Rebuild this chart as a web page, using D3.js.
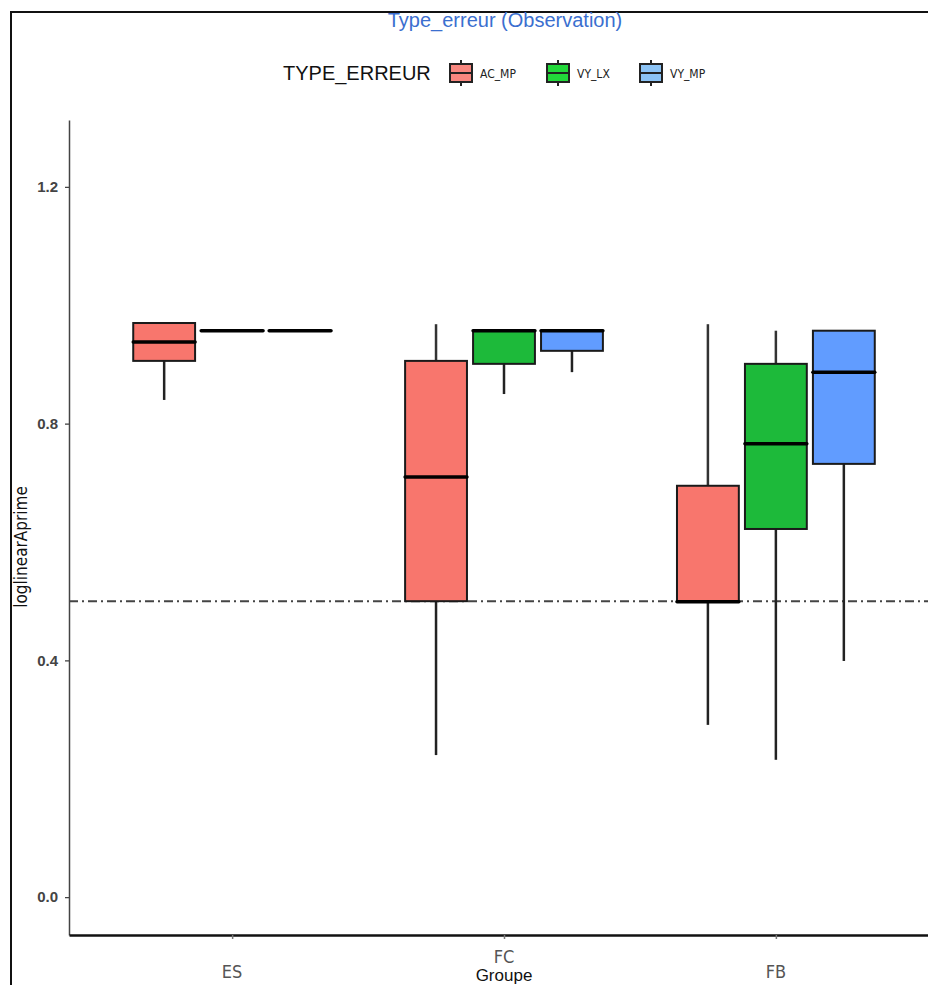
<!DOCTYPE html>
<html>
<head>
<meta charset="utf-8">
<script src="https://cdn.jsdelivr.net/npm/d3@7"></script>
<style>
  body { margin: 0; background: #fff; }
  svg { display: block; }
</style>
</head>
<body>
<div id="chart"></div>
<script>
// data
const groups = ["ES", "FC", "FB"];
const types = ["AC_MP", "VY_LX", "VY_MP"];
const typeColors = ["#f8766d", "#1dba3a", "#619cff"];
const legendColors = ["#f8877f", "#22d83a", "#8cc3f5"];
const yTicks = [0.0, 0.4, 0.8, 1.2];
const refLine = 0.5;

// one row per box: [group, type, whiskerLow, q1, median, q3, whiskerHigh]
const boxes = [
  ["ES", "AC_MP", 0.840, 0.906, 0.938, 0.970, 0.970],
  ["ES", "VY_LX", 0.957, 0.957, 0.957, 0.957, 0.957],
  ["ES", "VY_MP", 0.957, 0.957, 0.957, 0.957, 0.957],
  ["FC", "AC_MP", 0.240, 0.500, 0.710, 0.906, 0.968],
  ["FC", "VY_LX", 0.850, 0.901, 0.957, 0.957, 0.957],
  ["FC", "VY_MP", 0.887, 0.923, 0.957, 0.957, 0.957],
  ["FB", "AC_MP", 0.291, 0.499, 0.499, 0.695, 0.968],
  ["FB", "VY_LX", 0.232, 0.622, 0.766, 0.901, 0.957],
  ["FB", "VY_MP", 0.399, 0.732, 0.887, 0.957, 0.957]
];

const W = 928, H = 985;
const margin = {top: 120, left: 69, bottom: 50};
const panelRight = 939; // panel runs past the right edge of the capture

const svg = d3.select("#chart").append("svg")
    .attr("width", W)
    .attr("height", H);

// frame of the screenshot
svg.append("path")
    .attr("d", `M11,${H} L11,12 L${W},12`)
    .attr("fill", "none")
    .attr("stroke", "#111")
    .attr("stroke-width", 2);

const yScale = d3.scaleLinear()
    .domain([-0.064, 1.313])
    .range([H - margin.bottom, margin.top]);

// discrete axis with ggplot style 0.6 expansion
const xScale = d3.scaleLinear()
    .domain([0.4, 3.6])
    .range([margin.left, panelRight]);
const xPos = g => xScale(groups.indexOf(g) + 1);
const slot = xScale(1.25) - xScale(1);   // dodge step
const boxW = slot * 0.91;

// y axis
const yAxisG = svg.append("g")
    .attr("transform", `translate(${margin.left},0)`)
    .call(d3.axisLeft(yScale).tickValues(yTicks).tickFormat(d3.format(".1f")).tickSize(4).tickSizeOuter(0));
yAxisG.select(".domain").attr("stroke", "#444").attr("stroke-width", 1.5);
yAxisG.selectAll(".tick line").attr("stroke", "#444").attr("stroke-width", 1.3);
yAxisG.selectAll(".tick text")
    .attr("x", -11)
    .style("font-family", "Liberation Sans, Arial, sans-serif")
    .style("font-size", "15px")
    .style("font-weight", "bold")
    .style("fill", "#444");

// x axis
const xAxisG = svg.append("g")
    .attr("transform", `translate(0,${H - margin.bottom})`)
    .call(d3.axisBottom(xScale).tickValues([1, 2, 3]).tickFormat("").tickSize(4).tickSizeOuter(0));
xAxisG.select(".domain").attr("stroke", "#111").attr("stroke-width", 2.5);
xAxisG.selectAll(".tick line").attr("stroke", "#777").attr("stroke-width", 1.5);

// x tick labels (FC sits higher in the capture)
const xLabelY = {ES: 978, FC: 963, FB: 978};
svg.selectAll(".xLabel")
    .data(groups)
    .join("text")
    .attr("class", "xLabel")
    .attr("x", d => xPos(d))
    .attr("y", d => xLabelY[d])
    .attr("text-anchor", "middle")
    .style("font-family", "Liberation Sans Narrow, DejaVu Sans Condensed, sans-serif")
    .style("font-size", "18px")
    .style("fill", "#555")
    .text(d => d);

svg.append("text")
    .attr("x", xPos("FC"))
    .attr("y", 981)
    .attr("text-anchor", "middle")
    .style("font-family", "Liberation Sans, Arial, sans-serif")
    .style("font-size", "17px")
    .style("fill", "#111")
    .text("Groupe");

// y axis title
svg.append("text")
    .attr("transform", "rotate(-90)")
    .attr("x", -547)
    .attr("y", 27)
    .attr("text-anchor", "middle")
    .style("font-family", "Liberation Sans Narrow, DejaVu Sans Condensed, sans-serif")
    .style("font-size", "17px")
    .style("fill", "#111")
    .text("loglinearAprime");

// reference line
svg.append("line")
    .attr("x1", margin.left)
    .attr("x2", W)
    .attr("y1", yScale(refLine))
    .attr("y2", yScale(refLine))
    .attr("stroke", "#444")
    .attr("stroke-width", 2)
    .attr("stroke-dasharray", "9,4,2,4");

// boxes
const boxG = svg.selectAll(".boxG")
    .data(boxes)
    .join("g")
    .attr("class", "boxG")
    .attr("transform", d => {
        const k = types.indexOf(d[1]);
        return `translate(${xPos(d[0]) + (k - 1) * slot},0)`;
    });

boxG.append("line")
    .attr("x1", 0).attr("x2", 0)
    .attr("y1", d => yScale(d[2]))
    .attr("y2", d => yScale(d[3]))
    .attr("stroke", "#222")
    .attr("stroke-width", 2.5);
boxG.append("line")
    .attr("x1", 0).attr("x2", 0)
    .attr("y1", d => yScale(d[5]))
    .attr("y2", d => yScale(d[6]))
    .attr("stroke", "#333")
    .attr("stroke-width", 2.5);
boxG.append("rect")
    .attr("x", -boxW / 2)
    .attr("width", boxW)
    .attr("y", d => yScale(d[5]))
    .attr("height", d => yScale(d[3]) - yScale(d[5]))
    .attr("fill", d => typeColors[types.indexOf(d[1])])
    .attr("stroke", "#1a1a1a")
    .attr("stroke-width", 2);
boxG.append("line")
    .attr("x1", -boxW / 2).attr("x2", boxW / 2)
    .attr("y1", d => yScale(d[4]))
    .attr("y2", d => yScale(d[4]))
    .attr("stroke", "#000")
    .attr("stroke-width", 3.5)
    .attr("stroke-linecap", "round");

// title
svg.append("text")
    .attr("x", 505)
    .attr("y", 27)
    .attr("text-anchor", "middle")
    .style("font-family", "Liberation Sans, Arial, sans-serif")
    .style("font-size", "20px")
    .style("fill", "#3b6fcf")
    .text("Type_erreur (Observation)");

// legend
svg.append("text")
    .attr("x", 283)
    .attr("y", 80)
    .style("font-family", "Liberation Sans, Arial, sans-serif")
    .style("font-size", "20px")
    .style("fill", "#111")
    .text("TYPE_ERREUR");

const legendX = [449, 546, 639];
const legendG = svg.selectAll(".legendG")
    .data(types)
    .join("g")
    .attr("class", "legendG")
    .attr("transform", (d, i) => `translate(${legendX[i]},60)`);
legendG.append("line")
    .attr("x1", 12).attr("x2", 12)
    .attr("y1", 0).attr("y2", 26)
    .attr("stroke", "#222")
    .attr("stroke-width", 2);
legendG.append("rect")
    .attr("x", 1).attr("y", 4)
    .attr("width", 22).attr("height", 18)
    .attr("fill", (d, i) => legendColors[i])
    .attr("stroke", "#222")
    .attr("stroke-width", 2);
legendG.append("line")
    .attr("x1", 1).attr("x2", 23)
    .attr("y1", 13).attr("y2", 13)
    .attr("stroke", "#222")
    .attr("stroke-width", 2);
legendG.append("text")
    .attr("x", 31)
    .attr("y", 18)
    .style("font-family", "Liberation Sans Narrow, DejaVu Sans Condensed, sans-serif")
    .style("font-size", "12px")
    .style("fill", "#222")
    .text(d => d);
</script>
</body>
</html>
